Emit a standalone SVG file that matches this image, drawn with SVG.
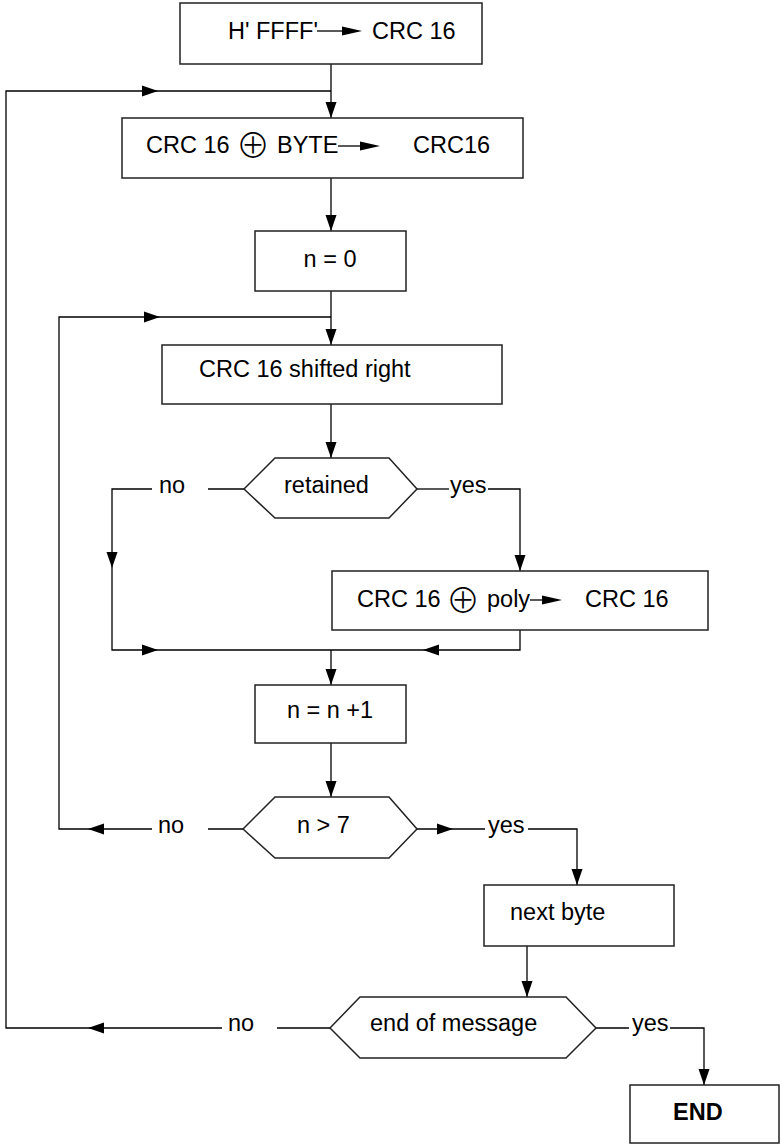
<svg xmlns="http://www.w3.org/2000/svg" xmlns:xlink="http://www.w3.org/1999/xlink" width="781" height="1145" viewBox="0 0 781 1145">
<style>
  .box { fill: #fff; stroke: #222; stroke-width: 1.5; }
  .ln { fill: none; stroke: #000; stroke-width: 1.3; }
  .t { font-family: "Liberation Sans", Arial, sans-serif; font-size: 23.5px; fill: #000; }
  .b { font-weight: bold; }
  .op { font-family: "Noto Sans CJK JP", "DejaVu Sans", sans-serif; font-size: 34px; fill: #000; font-weight: 300; }
  .ah { fill: #000; }
</style>
<defs>
  <path id="ah" d="M0,0 L-16,-5.5 L-16,5.5 Z"/>
  <path id="ahs" d="M0,0 L-20,-4.5 L-20,4.5 Z"/>
</defs>
<rect width="781" height="1145" fill="#fff"/>

<g id="connectors">
  <!-- outer loop -->
  <path class="ln" d="M222,1028 L6,1028 L6,91 L331,91"/>
  <path class="ln" d="M277,1028 L330,1028"/>
  <use href="#ah" class="ah" transform="translate(158,91)"/>
  <use href="#ah" class="ah" transform="translate(88,1028) rotate(180)"/>
  <!-- box1 to box2 -->
  <path class="ln" d="M331,64 L331,118"/>
  <use href="#ah" class="ah" transform="translate(331,118) rotate(90)"/>
  <!-- box2 to box3 -->
  <path class="ln" d="M331,178 L331,231"/>
  <use href="#ah" class="ah" transform="translate(331,231) rotate(90)"/>
  <!-- box3 to box4, inner loop -->
  <path class="ln" d="M331,291 L331,345"/>
  <use href="#ah" class="ah" transform="translate(331,345) rotate(90)"/>
  <path class="ln" d="M152,829 L59,829 L59,317 L331,317"/>
  <path class="ln" d="M208,829 L243,829"/>
  <use href="#ah" class="ah" transform="translate(160,317)"/>
  <use href="#ah" class="ah" transform="translate(88,829) rotate(180)"/>
  <!-- box4 to retained -->
  <path class="ln" d="M331,404 L331,458"/>
  <use href="#ah" class="ah" transform="translate(331,458) rotate(90)"/>
  <!-- retained no -->
  <path class="ln" d="M244,489 L208,489"/>
  <path class="ln" d="M152,489 L112,489 L112,650 L520,650 L520,630"/>
  <use href="#ah" class="ah" transform="translate(112,568) rotate(90)"/>
  <use href="#ah" class="ah" transform="translate(158,650)"/>
  <use href="#ah" class="ah" transform="translate(423,650) rotate(180)"/>
  <!-- retained yes -->
  <path class="ln" d="M417,489 L449,489"/>
  <path class="ln" d="M488,489 L520,489 L520,571"/>
  <use href="#ah" class="ah" transform="translate(520,571) rotate(90)"/>
  <!-- merge to box6 -->
  <path class="ln" d="M331,650 L331,685"/>
  <use href="#ah" class="ah" transform="translate(331,685) rotate(90)"/>
  <!-- box6 to n>7 -->
  <path class="ln" d="M331,743 L331,797"/>
  <use href="#ah" class="ah" transform="translate(331,797) rotate(90)"/>
  <!-- n>7 yes -->
  <path class="ln" d="M417,829 L485,829"/>
  <use href="#ah" class="ah" transform="translate(453,829)"/>
  <path class="ln" d="M528,829 L577,829 L577,885"/>
  <use href="#ah" class="ah" transform="translate(577,885) rotate(90)"/>
  <!-- next byte to end of message -->
  <path class="ln" d="M527,946 L527,997"/>
  <use href="#ah" class="ah" transform="translate(527,997) rotate(90)"/>
  <!-- end of message yes -->
  <path class="ln" d="M596,1028 L629,1028"/>
  <path class="ln" d="M670,1028 L704,1028 L704,1085"/>
  <use href="#ah" class="ah" transform="translate(704,1085) rotate(90)"/>
</g>

<g id="node-init">
  <rect class="box" x="180" y="3" width="302" height="61"/>
  <text class="t" x="228" y="39">H' FFFF'</text>
  <path class="ln" d="M317,31 L342,31"/>
  <use href="#ahs" class="ah" transform="translate(362,31)"/>
  <text class="t" x="372" y="39">CRC 16</text>
</g>

<g id="node-xor-byte">
  <rect class="box" x="122" y="118" width="401" height="60"/>
  <text class="t" x="146" y="153">CRC 16</text>
  <text class="op" x="253" y="158" text-anchor="middle">⊕</text>
  <text class="t" x="277" y="153">BYTE</text>
  <path class="ln" d="M338,146 L361,146"/>
  <use href="#ahs" class="ah" transform="translate(380,146)"/>
  <text class="t" x="413" y="153">CRC16</text>
</g>

<g id="node-n0">
  <rect class="box" x="255" y="231" width="151" height="60"/>
  <text class="t" x="330" y="267" text-anchor="middle">n = 0</text>
</g>

<g id="node-shift">
  <rect class="box" x="162" y="345" width="340" height="59"/>
  <text class="t" x="199" y="377">CRC 16 shifted right</text>
</g>

<g id="node-retained">
  <polygon class="box" points="244,489 275,458 389,458 417,489 389,518 275,518"/>
  <text class="t" x="284" y="493">retained</text>
  <text class="t" x="159" y="493">no</text>
  <text class="t" x="450" y="493">yes</text>
</g>

<g id="node-xor-poly">
  <rect class="box" x="332" y="571" width="376" height="59"/>
  <text class="t" x="357" y="607">CRC 16</text>
  <text class="op" x="463" y="613" text-anchor="middle">⊕</text>
  <text class="t" x="487" y="607">poly</text>
  <path class="ln" d="M530,600 L542,600"/>
  <use href="#ahs" class="ah" transform="translate(562,600)"/>
  <text class="t" x="585" y="607">CRC 16</text>
</g>

<g id="node-inc">
  <rect class="box" x="255" y="685" width="151" height="58"/>
  <text class="t" x="330" y="718" text-anchor="middle">n = n +1</text>
</g>

<g id="node-n7">
  <polygon class="box" points="243,829 275,797 389,797 417,829 389,858 275,858"/>
  <text class="t" x="297" y="833">n &gt; 7</text>
  <text class="t" x="158" y="833">no</text>
  <text class="t" x="488" y="833">yes</text>
</g>

<g id="node-next">
  <rect class="box" x="484" y="885" width="190" height="61"/>
  <text class="t" x="510" y="920">next byte</text>
</g>

<g id="node-eom">
  <polygon class="box" points="330,1028 360,997 566,997 596,1028 566,1058 360,1058"/>
  <text class="t" x="370" y="1031">end of message</text>
  <text class="t" x="228" y="1031">no</text>
  <text class="t" x="632" y="1031">yes</text>
</g>

<g id="node-end">
  <rect class="box" x="630" y="1085" width="149" height="58"/>
  <text class="t b" x="673" y="1120">END</text>
</g>
</svg>
